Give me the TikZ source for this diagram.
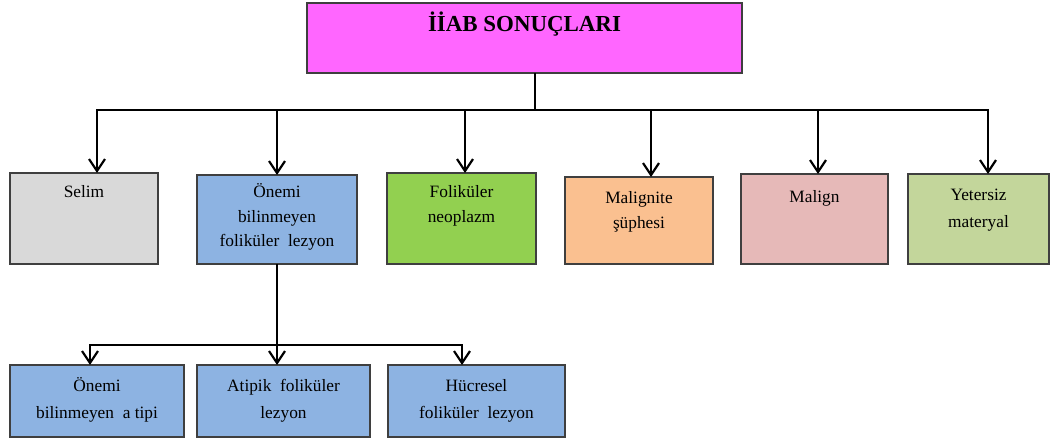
\documentclass[tikz,border=0pt]{standalone}
\usepackage{fontspec}
\setmainfont{Liberation Serif}
\usetikzlibrary{arrows.meta}

\definecolor{boxline}{HTML}{3F3F3F}
\definecolor{cTop}{HTML}{FF66FF}
\definecolor{cGray}{HTML}{D9D9D9}
\definecolor{cBlue}{HTML}{8DB3E2}
\definecolor{cGreen}{HTML}{92D050}
\definecolor{cOrange}{HTML}{FAC090}
\definecolor{cPink}{HTML}{E6B9B8}
\definecolor{cOlive}{HTML}{C3D69B}

\begin{document}
\begin{tikzpicture}[x=1bp,y=-1bp,
  box/.style={draw=boxline, line width=1.4bp, rectangle, inner sep=0pt, outer sep=0pt},
  lbl/.style={anchor=north, inner sep=0pt, align=center, font=\fontsize{17.4}{25}\selectfont},
  wire/.style={line width=2.2bp, black},
  arr/.style={wire, -{Straight Barb[length=12bp,width=16bp]}}]
\useasboundingbox (0,0) rectangle (1051,439);

% title box
\node[box, fill=cTop, minimum width=435bp, minimum height=70bp] (top) at (524.5,38) {};
\node[anchor=north, inner sep=0pt, font=\bfseries\fontsize{23}{27}\selectfont] (topT)
  at (top |- 0,12.1) {\strut İİAB SONUÇLARI};

% first row of result boxes
\node[box, fill=cGray,   minimum width=148bp, minimum height=91bp] (selim)  at (84,218.5) {};
\node[box, fill=cBlue,   minimum width=160bp, minimum height=89bp] (onemi)  at (277,219.5) {};
\node[box, fill=cGreen,  minimum width=149bp, minimum height=91bp] (folik)  at (461.5,218.5) {};
\node[box, fill=cOrange, minimum width=148bp, minimum height=87bp] (malig)  at (639,220.5) {};
\node[box, fill=cPink,   minimum width=147bp, minimum height=90bp] (malign) at (814.5,219) {};
\node[box, fill=cOlive,  minimum width=141bp, minimum height=90bp] (yeter)  at (978.5,219) {};

\node[lbl] (selimT)  at (selim |- 0,179.5)  {\strut Selim};
\node[lbl] (onemiT)  at (onemi |- 0,179.5)  {\strut Önemi\\bilinmeyen\\foliküler\ \ lezyon};
\node[lbl] (folikT)  at (folik |- 0,179.5)  {\strut Foliküler\\neoplazm};
\node[lbl] (maligT)  at (malig |- 0,185.5)  {\strut Malignite\\şüphesi};
\node[lbl] (malignT) at (malign |- 0,184.5) {\strut Malign};
\node[lbl, font=\fontsize{17.4}{27}\selectfont] (yeterT) at (yeter |- 0,181.1) {\strut Yetersiz\\materyal};

% second row under the first blue box
\node[box, fill=cBlue, minimum width=174bp, minimum height=72bp] (subA) at (97,401) {};
\node[box, fill=cBlue, minimum width=173bp, minimum height=72bp] (subB) at (283.5,401) {};
\node[box, fill=cBlue, minimum width=177bp, minimum height=72bp] (subC) at (476.5,401) {};

\node[lbl, font=\fontsize{17.4}{26.5}\selectfont] (subAT) at (subA |- 0,373.2) {\strut Önemi\\bilinmeyen\ \ a tipi};
\node[lbl, font=\fontsize{17.4}{26.5}\selectfont] (subBT) at (subB |- 0,373.2) {\strut Atipik\ \ foliküler\\lezyon};
\node[lbl, font=\fontsize{17.4}{26.5}\selectfont] (subCT) at (subC |- 0,373.2) {\strut Hücresel\\foliküler\ \ lezyon};

% connectors from the title box
\coordinate (bus) at (535,110);
\draw[wire] (top.south -| bus) -- (bus);
\draw[wire, line cap=rect] (97,110) -- (988,110);
\draw[arr] (97,110)  -- (selim.north -| 97,0);
\draw[arr] (277,110) -- (onemi.north -| 277,0);
\draw[arr] (465,110) -- (folik.north -| 465,0);
\draw[arr] (651,110) -- (malig.north -| 651,0);
\draw[arr] (818,110) -- (malign.north -| 818,0);
\draw[arr] (988,110) -- (yeter.north -| 988,0);

% connectors to the second row
\coordinate (bus2) at (277,345);
\draw[wire] (onemi.south -| bus2) -- (bus2);
\draw[wire, line cap=rect] (90,345) -- (462,345);
\draw[arr] (90,345)  -- (subA.north -| 90,0);
\draw[arr] (277,345) -- (subB.north -| 277,0);
\draw[arr] (462,345) -- (subC.north -| 462,0);
\end{tikzpicture}
\end{document}
